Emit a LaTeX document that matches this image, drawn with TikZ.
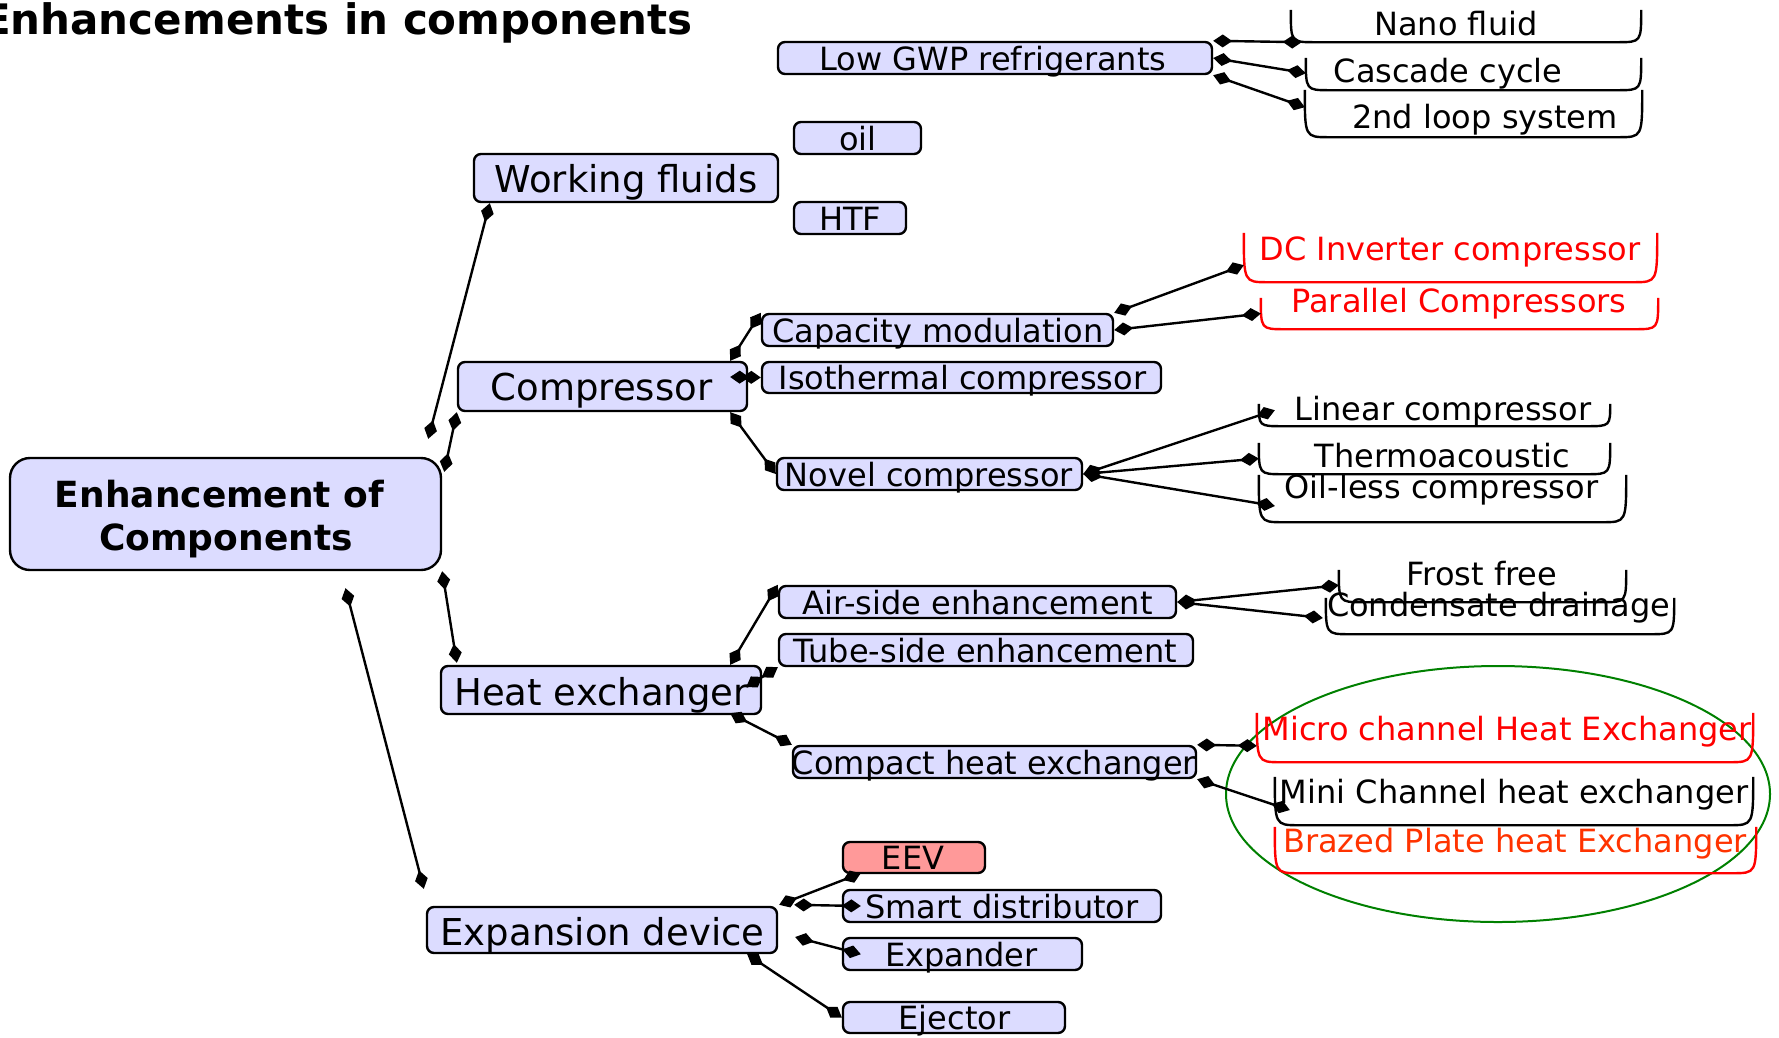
\documentclass[tikz,border=0pt]{standalone}
\usepackage{fontspec}
\setmainfont{DejaVu Sans}
\usetikzlibrary{arrows.meta,calc,shapes.geometric}
\definecolor{boxfill}{RGB}{220,220,255}
\definecolor{eevfill}{RGB}{255,153,153}
\definecolor{brazed}{RGB}{255,51,0}
\definecolor{ellgreen}{RGB}{0,128,0}
\newcommand{\bracketunder}[2][black]{%
  \draw[brk,#1] (#2.north west) .. controls (#2.south west) .. ($(#2.south west)+(24,0)$)
     -- ($(#2.south east)+(-24,0)$) .. controls (#2.south east) .. (#2.north east);}
\begin{document}
\begin{tikzpicture}[x=1pt,y=-1pt,
  bx/.style={draw=black, fill=boxfill, line width=2.4pt, rounded corners=7pt, inner sep=0pt},
  t1/.style={inner sep=0pt, anchor=base, font=\fontsize{37}{44}\selectfont},
  t2/.style={inner sep=0pt, anchor=base, font=\fontsize{32}{38}\selectfont},
  tb/.style={inner sep=0pt, anchor=base, font=\fontsize{36}{43}\selectfont\bfseries},
  frame/.style={inner sep=0pt, draw=none},
  brk/.style={line width=2.4pt},
  dtip/.tip={Diamond[length=19pt,width=13pt,line width=0pt]},
  conn/.style={line width=2.4pt, {dtip}-{dtip}},
]
\useasboundingbox (0,0) rectangle (1779,1037);

% title
\node[inner sep=0pt, anchor=base east, font=\fontsize{42}{49}\selectfont\bfseries] (title) at (693,34) {Enhancements in components};

% green highlight ellipse
\node[draw=ellgreen, ellipse, line width=2pt, minimum width=544pt, minimum height=256pt, inner sep=0pt] (hl) at (1498,794) {};

% root
\node[bx, rounded corners=20pt, minimum width=431pt, minimum height=112pt] (root) at (225.5,514) {};
\node[tb] (root-t1) at (219.5,507) {Enhancement of};
\node[tb] (root-t2) at (226,550) {Components};

% level 1
\node[bx, minimum width=304pt, minimum height=48pt] (wf) at (626,178) {};
\node[t1] (wf-t) at (626,192) {Working fluids};
\node[bx, minimum width=289pt, minimum height=49pt] (comp) at (602.5,386.5) {};
\node[t1] (comp-t) at (601.5,400) {Compressor};
\node[bx, minimum width=320pt, minimum height=48pt] (hx) at (601,690) {};
\node[t1] (hx-t) at (601.5,705) {Heat exchanger};
\node[bx, minimum width=350pt, minimum height=46pt] (exp) at (602,930) {};
\node[t1] (exp-t) at (602.5,945) {Expansion device};

% level 2
\node[bx, minimum width=434pt, minimum height=32pt] (lowgwp) at (995,58) {};
\node[t2] (lowgwp-t) at (993,70) {Low GWP refrigerants};
\node[bx, minimum width=127pt, minimum height=32pt] (oil) at (857.5,138) {};
\node[t2] (oil-t) at (858,150) {oil};
\node[bx, minimum width=112pt, minimum height=32pt] (htf) at (850,218) {};
\node[t2] (htf-t) at (850,230) {HTF};
\node[bx, minimum width=351pt, minimum height=32pt] (cap) at (937.5,330) {};
\node[t2] (cap-t) at (938,342) {Capacity modulation};
\node[bx, minimum width=399pt, minimum height=31pt] (iso) at (961.5,377.5) {};
\node[t2] (iso-t) at (962.5,389) {Isothermal compressor};
\node[bx, minimum width=305pt, minimum height=32pt] (novel) at (929.5,474) {};
\node[t2] (novel-t) at (929,486) {Novel compressor};
\node[bx, minimum width=397pt, minimum height=32pt] (air) at (977.5,602) {};
\node[t2] (air-t) at (977.5,614) {Air-side enhancement};
\node[bx, minimum width=414pt, minimum height=32pt] (tube) at (986,650) {};
\node[t2] (tube-t) at (985.5,662) {Tube-side enhancement};
\node[bx, minimum width=403pt, minimum height=32pt] (compact) at (994.5,762) {};
\node[t2] (compact-t) at (994,774) {Compact heat exchanger};
\node[bx, fill=eevfill, minimum width=142pt, minimum height=31pt] (eev) at (914,857.5) {};
\node[t2] (eev-t) at (913,869) {EEV};
\node[bx, minimum width=318pt, minimum height=32pt] (smart) at (1002,906) {};
\node[t2] (smart-t) at (1002,918) {Smart distributor};
\node[bx, minimum width=239pt, minimum height=32pt] (expd) at (962.5,954) {};
\node[t2] (expd-t) at (961.5,966) {Expander};
\node[bx, minimum width=222pt, minimum height=31pt] (ejec) at (954,1017.5) {};
\node[t2] (ejec-t) at (954.5,1029) {Ejector};

% level 3 (bracket frames)
\node[frame, minimum width=350pt, minimum height=32pt] (nano) at (1466,26) {};
\node[frame, minimum width=335pt, minimum height=32pt] (cascade) at (1473.5,74) {};
\node[frame, minimum width=337pt, minimum height=47pt] (loop) at (1473.5,113.5) {};
\node[frame, minimum width=413pt, minimum height=49pt] (dc) at (1450.5,257.5) {};
\node[frame, minimum width=397pt, minimum height=31pt] (par) at (1459.5,313.5) {};
\node[frame, minimum width=351pt, minimum height=22pt] (lin) at (1434.5,415) {};
\node[frame, minimum width=351pt, minimum height=31pt] (thermo) at (1434.5,458.5) {};
\node[frame, minimum width=367pt, minimum height=47pt] (oilless) at (1442.5,498.5) {};
\node[frame, minimum width=287pt, minimum height=32pt] (frost) at (1482.5,586) {};
\node[frame, minimum width=348pt, minimum height=36pt] (cond) at (1500,616) {};
\node[frame, minimum width=496pt, minimum height=49pt] (micro) at (1505,737.5) {};
\node[frame, minimum width=478pt, minimum height=48pt] (mini) at (1514,801) {};
\node[frame, minimum width=481pt, minimum height=46pt] (brz) at (1515.5,850) {};

\bracketunder{nano}
\bracketunder{cascade}
\bracketunder{loop}
\bracketunder[red]{dc}
\bracketunder[red]{par}
\bracketunder{lin}
\bracketunder{thermo}
\bracketunder{oilless}
\bracketunder{frost}
\bracketunder{cond}
\bracketunder[red]{micro}
\bracketunder{mini}
\bracketunder[red]{brz}

\node[t2] (nano-t) at (1456,35) {Nano fluid};
\node[t2] (cascade-t) at (1448,82) {Cascade cycle};
\node[t2] (loop-t) at (1485,128) {2nd loop system};
\node[t2, text=red] (dc-t) at (1450,260) {DC Inverter compressor};
\node[t2, text=red] (par-t) at (1459,312) {Parallel Compressors};
\node[t2] (lin-t) at (1443,420) {Linear compressor};
\node[t2] (thermo-t) at (1442.5,467) {Thermoacoustic};
\node[t2] (oilless-t) at (1441.5,498) {Oil-less compressor};
\node[t2] (frost-t) at (1482,585) {Frost free};
\node[t2] (cond-t) at (1498.5,616) {Condensate drainage};
\node[t2, text=red] (micro-t) at (1507,740) {Micro channel Heat Exchanger};
\node[t2] (mini-t) at (1514,803) {Mini Channel heat exchanger};
\node[t2, text=brazed] (brz-t) at (1515,852) {Brazed Plate heat Exchanger};

% connectors from root
\draw[conn] ($(root.north east)+(-14,-18)$) -- ($(wf.south west)+(17,0)$);
\draw[conn] ($(root.north east)+(2,15)$) -- (comp.south west);
\draw[conn] (root.south east) -- ($(hx.north west)+(17,-2)$);
\draw[conn] ($(root.south)+(120,17)$) -- ($(exp.north west)+(-2,-17)$);

% working fluids branch
\draw[conn] (lowgwp.north east) -- ($(nano.south west)+(11,0)$);
\draw[conn] (lowgwp.east) -- ($(cascade.south west)+(0,-17)$);
\draw[conn] (lowgwp.south east) -- ($(loop.south west)+(0,-30)$);

% compressor branch
\draw[conn] ($(comp.north east)+(-18,0)$) -- (cap.north west);
\draw[conn] ($(comp.east)+(-18,-9.5)$) -- (iso.west);
\draw[conn] ($(comp.south east)+(-18,0)$) -- (novel.west);
\draw[conn] (cap.north east) -- ($(dc.south west)+(0,-17)$);
\draw[conn] (cap.east) -- (par.west);
\draw[conn] (novel.east) -- ($(lin.south west)+(16,-16)$);
\draw[conn] (novel.east) -- (thermo.west);
\draw[conn] (novel.east) -- ($(oilless.west)+(16,7.5)$);

% heat exchanger branch
\draw[conn] ($(hx.north east)+(-32,0)$) -- (air.north west);
\draw[conn] ($(hx.east)+(-16,-3)$) -- (tube.south west);
\draw[conn] ($(hx.south east)+(-32,-2)$) -- (compact.north west);
\draw[conn] (air.east) -- ($(frost.south west)+(0,-17)$);
\draw[conn] (air.east) -- ($(cond.west)+(-3,2)$);
\draw[conn] (compact.north east) -- ($(micro.north west)+(0,33)$);
\draw[conn] (compact.south east) -- ($(mini.west)+(15,9)$);

% expansion branch
\draw[conn] ($(exp.north east)+(1,-1)$) -- ($(eev.south west)+(19,-1)$);
\draw[conn] ($(exp.north east)+(16,-1)$) -- ($(smart.west)+(19,0)$);
\draw[conn] ($(exp.east)+(17,7)$) -- ($(expd.south west)+(19,-17)$);
\draw[conn] ($(exp.south east)+(-31,0)$) -- (ejec.west);
\end{tikzpicture}
\end{document}
